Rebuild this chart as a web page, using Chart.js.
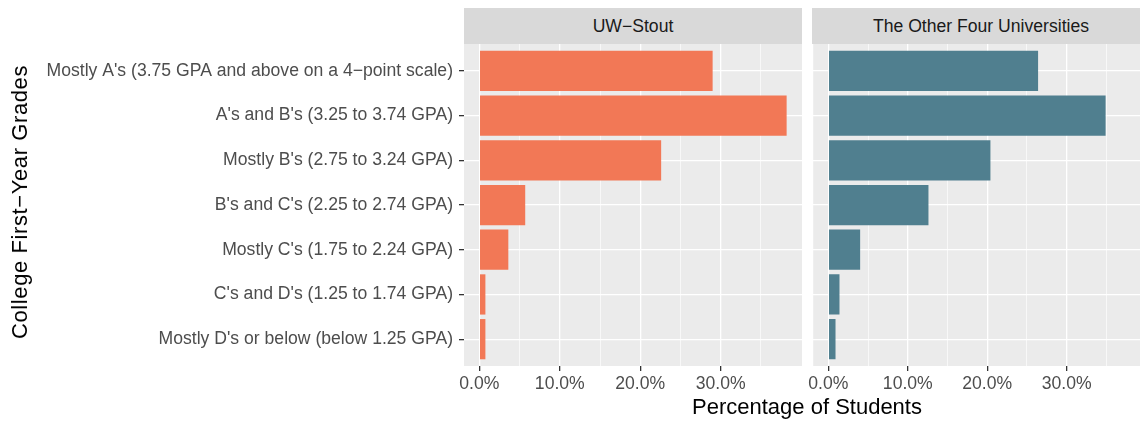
<!DOCTYPE html>
<html>
<head>
<meta charset="utf-8">
<script src="https://cdn.jsdelivr.net/npm/chart.js@4.4.1/dist/chart.umd.min.js"></script>
<style>
    body { margin: 0; background: #ffffff; overflow: hidden; width: 1140px; height: 423px; position: relative; font-family: "Liberation Sans", Arial, sans-serif; }
    canvas { position: absolute; top: 0; }
    .strip { position: absolute; top: 8px; height: 36px; background: #D9D9D9; color: #1A1A1A; font-size: 17.6px; line-height: 36px; text-align: center; white-space: nowrap; }
    .title { position: absolute; color: #000000; font-size: 22px; line-height: 22px; white-space: nowrap; }
</style>
</head>
<body>
<canvas id="stout" width="805" height="423" style="left:0px"></canvas>
<canvas id="other" width="345" height="423" style="left:805px"></canvas>
<div class="strip" style="left:464px; width:338px;">UW−Stout</div>
<div class="strip" style="left:812px; width:338px;">The Other Four Universities</div>
<div class="title" style="left:807px; top:396px; transform: translateX(-50%);">Percentage of Students</div>
<div class="title" style="left:20px; top:202px; letter-spacing:0.6px; transform: translate(-50%, -50%) rotate(-90deg);">College First−Year Grades</div>
<script>
const font = "'Liberation Sans', Arial, sans-serif";

const categories = [
    "Mostly A's (3.75 GPA and above on a 4−point scale)",
    "A's and B's (3.25 to 3.74 GPA)",
    "Mostly B's (2.75 to 3.24 GPA)",
    "B's and C's (2.25 to 2.74 GPA)",
    "Mostly C's (1.75 to 2.24 GPA)",
    "C's and D's (1.25 to 1.74 GPA)",
    "Mostly D's or below (below 1.25 GPA)"
];
const stoutValues = [29.0, 38.2, 22.6, 5.7, 3.6, 0.75, 0.75];
const otherValues = [26.4, 34.9, 20.4, 12.6, 4.0, 1.4, 0.9];
const xTicks = [0, 5, 10, 15, 20, 25, 30, 35];

const orange = "#F27856";
const teal = "#507F8F";

// grey panel behind the grid
const panelBg = {
    id: "panelBg",
    beforeDraw(chart) {
        const a = chart.chartArea;
        chart.ctx.save();
        chart.ctx.fillStyle = "#EBEBEB";
        chart.ctx.fillRect(a.left, a.top, a.right - a.left, a.bottom - a.top);
        chart.ctx.restore();
    }
};

function makePanel(id, values, color, showLabels) {
    const isMajor = ctx => ctx.tick && ctx.tick.value % 10 === 0;
    return new Chart(document.getElementById(id), {
        type: "bar",
        data: {
            datasets: [{
                data: values.map((v, i) => ({ x: v, y: i + 1 })),
                backgroundColor: color,
                barPercentage: 0.9,
                categoryPercentage: 1,
            }],
        },
        options: {
            indexAxis: "y",
            responsive: false,
            animation: false,
            devicePixelRatio: 1,
            layout: { padding: { top: 44, right: 3, left: showLabels ? 0 : 7, bottom: 0 } },
            plugins: { legend: { display: false }, tooltip: { enabled: false } },
            scales: {
                x: {
                    type: "linear",
                    min: -1.91,
                    max: 40.11,
                    afterBuildTicks: s => { s.ticks = xTicks.map(v => ({ value: v })); },
                    afterFit: s => { s.height = 57; },
                    border: { display: false },
                    grid: {
                        color: "#FFFFFF",
                        lineWidth: ctx => isMajor(ctx) ? 1.3 : 0.65,
                        tickColor: ctx => isMajor(ctx) ? "#333333" : "rgba(0,0,0,0)",
                        tickWidth: 1.3,
                        tickLength: 5,
                    },
                    ticks: {
                        autoSkip: false,
                        maxRotation: 0,
                        padding: 3,
                        color: "#4D4D4D",
                        font: { family: font, size: 17.6 },
                        callback: v => v % 10 === 0 ? v.toFixed(1) + "%" : "",
                    },
                },
                y: {
                    type: "linear",
                    reverse: true,
                    offset: false,
                    min: 0.4,
                    max: 7.6,
                    afterBuildTicks: s => { s.ticks = categories.map((c, i) => ({ value: i + 1 })); },
                    afterFit: s => { s.width = showLabels ? 464 : 0; },
                    border: { display: false },
                    grid: {
                        offset: false,
                        color: "#FFFFFF",
                        lineWidth: 1.3,
                        tickColor: "#333333",
                        tickWidth: 1.3,
                        tickLength: showLabels ? 5 : 0,
                        drawTicks: showLabels,
                    },
                    ticks: {
                        display: showLabels,
                        autoSkip: false,
                        padding: 6,
                        color: "#4D4D4D",
                        font: { family: font, size: 17.6 },
                        callback: (v, i) => categories[i],
                    },
                },
            },
        },
        plugins: [panelBg],
    });
}

makePanel("stout", stoutValues, orange, true);
makePanel("other", otherValues, teal, false);
</script>
</body>
</html>
